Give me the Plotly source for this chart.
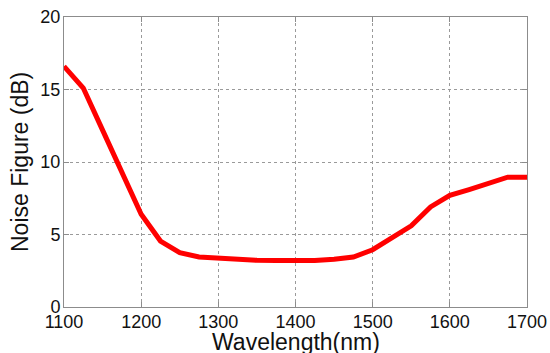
import plotly.graph_objects as go

wavelength = [1100, 1125, 1150, 1175, 1200, 1225, 1250, 1275, 1300, 1325, 1350, 1375, 1400,
              1425, 1450, 1475, 1500, 1525, 1550, 1575, 1600, 1625, 1650, 1675, 1700]
noise_figure = [16.6, 15.1, 12.2, 9.3, 6.4, 4.55, 3.75, 3.45, 3.35, 3.27, 3.22, 3.2, 3.2,
                3.2, 3.3, 3.45, 3.95, 4.75, 5.6, 6.9, 7.7, 8.1, 8.55, 8.95, 8.95]

x_ticks = [1100, 1200, 1300, 1400, 1500, 1600, 1700]
y_ticks = [0, 5, 10, 15, 20]

FONT = "Liberation Sans, Arial, sans-serif"

fig = go.Figure()
fig.add_trace(go.Scatter(x=wavelength, y=noise_figure, mode="lines",
                         line=dict(color="#ff0000", width=5)))

axis_common = dict(
    showline=True, linecolor="#8c8c8c", linewidth=1, mirror="ticks",
    ticks="inside", ticklen=5, tickcolor="#8c8c8c",
    showgrid=True, gridcolor="#9a9a9a", griddash="dot", gridwidth=1,
    zeroline=False, automargin=False,
    tickfont=dict(family=FONT, size=18, color="#111111"),
)

fig.update_xaxes(range=[1100, 1700], tickvals=x_ticks, ticklabelstandoff=-2, **axis_common)
fig.update_yaxes(range=[0, 20], tickvals=y_ticks, ticklabelstandoff=-1, **axis_common)

fig.add_annotation(text="Wavelength(nm)", xref="paper", yref="paper",
                   x=0.5, y=-0.122, xanchor="center", yanchor="middle", showarrow=False,
                   font=dict(family=FONT, size=23, color="#111111"))
fig.add_annotation(text="Noise Figure (dB)", xref="paper", yref="paper",
                   x=-0.095, y=0.5, xanchor="center", yanchor="middle", showarrow=False,
                   textangle=-90, font=dict(family=FONT, size=23, color="#111111"))

fig.update_layout(width=550, height=353, margin=dict(l=64, r=23, t=17, b=46),
                  plot_bgcolor="white", paper_bgcolor="white", showlegend=False)

fig.write_html("out.html", config={"displayModeBar": False},
               post_script="document.body.style.margin='0';document.body.style.overflow='hidden';")
